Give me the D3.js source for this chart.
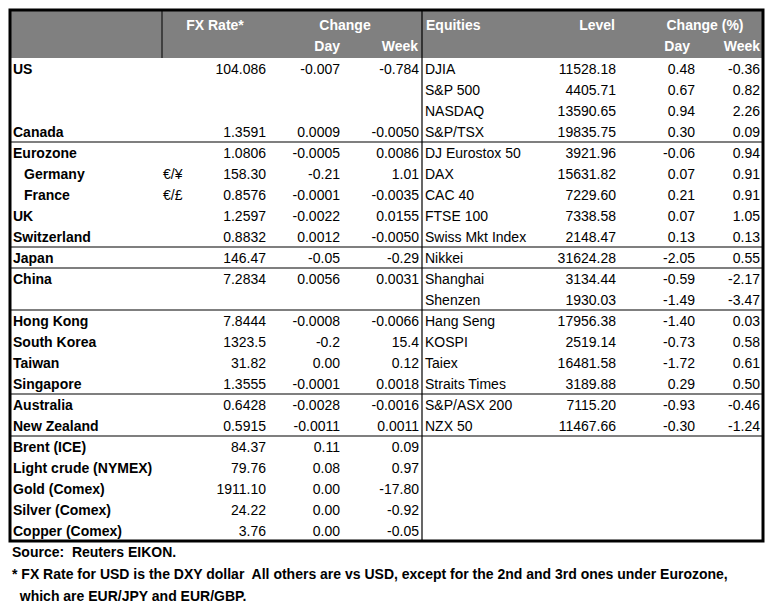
<!DOCTYPE html>
<html><head><meta charset="utf-8">
<script src="https://cdn.jsdelivr.net/npm/d3@7"></script>
<style>body{margin:0;background:#fff}text{font-family:"Liberation Sans",Arial,sans-serif;font-size:14px}</style>
</head><body><svg width="783" height="611"></svg>
<script>
// données du tableau
const regions = ["US","","","Canada","Eurozone","Germany","France","UK","Switzerland","Japan","China","","Hong Kong","South Korea","Taiwan","Singapore","Australia","New Zealand","Brent (ICE)","Light crude (NYMEX)","Gold (Comex)","Silver (Comex)","Copper (Comex)"];
const pairs = ["","","","","","€/¥","€/£","","","","","","","","","","","","","","","",""];
const fxRate = ["104.086","","","1.3591","1.0806","158.30","0.8576","1.2597","0.8832","146.47","7.2834","","7.8444","1323.5","31.82","1.3555","0.6428","0.5915","84.37","79.76","1911.10","24.22","3.76"];
const fxDay = ["-0.007","","","0.0009","-0.0005","-0.21","-0.0001","-0.0022","0.0012","-0.05","0.0056","","-0.0008","-0.2","0.00","-0.0001","-0.0028","-0.0011","0.11","0.08","0.00","0.00","0.00"];
const fxWeek = ["-0.784","","","-0.0050","0.0086","1.01","-0.0035","0.0155","-0.0050","-0.29","0.0031","","-0.0066","15.4","0.12","0.0018","-0.0016","0.0011","0.09","0.97","-17.80","-0.92","-0.05"];
const indices = ["DJIA","S&P 500","NASDAQ","S&P/TSX","DJ Eurostox 50","DAX","CAC 40","FTSE 100","Swiss Mkt Index","Nikkei","Shanghai","Shenzen","Hang Seng","KOSPI","Taiex","Straits Times","S&P/ASX  200","NZX 50"];
const levels = ["11528.18","4405.71","13590.65","19835.75","3921.96","15631.82","7229.60","7338.58","2148.47","31624.28","3134.44","1930.03","17956.38","2519.14","16481.58","3189.88","7115.20","11467.66"];
const eqDay = ["0.48","0.67","0.94","0.30","-0.06","0.07","0.21","0.07","0.13","-2.05","-0.59","-1.49","-1.40","-0.73","-1.72","0.29","-0.93","-0.30"];
const eqWeek = ["-0.36","0.82","2.26","0.09","0.94","0.91","0.91","1.05","0.13","0.55","-2.17","-3.47","0.03","0.58","0.61","0.50","-0.46","-1.24"];
const indented = ["Germany","France"];
const separators = [4, 9, 10, 12, 16, 18]; // une ligne au-dessus de ces rangées

const svg = d3.select("svg");
const y = d3.scaleBand().domain(d3.range(regions.length)).range([58, 541]);
const L = 10, R = 763, mid = 422;

svg.append("rect").attr("x", L).attr("y", 10).attr("width", R - L).attr("height", 48).attr("fill", "#808080");
svg.append("line").attr("x1", 162).attr("x2", 162).attr("y1", 10).attr("y2", 58).attr("stroke", "#000");

const head = [
  {t: "FX Rate*", x: 215, y: 30, a: "middle"}, {t: "Change", x: 345, y: 30, a: "middle"},
  {t: "Day", x: 340, y: 51, a: "end"}, {t: "Week", x: 418, y: 51, a: "end"},
  {t: "Equities", x: 426, y: 30, a: "start"}, {t: "Level", x: 615, y: 30, a: "end"},
  {t: "Change (%)", x: 705, y: 30, a: "middle"}, {t: "Day", x: 690, y: 51, a: "end"},
  {t: "Week", x: 760, y: 51, a: "end"}
];
svg.selectAll(".h").data(head).join("text").attr("x", d => d.x).attr("y", d => d.y)
  .attr("text-anchor", d => d.a).attr("fill", "#fff").attr("font-weight", "bold").text(d => d.t);

const row = i => y(i) + y.bandwidth() / 2 + 5;
const col = (arr, x, anchor, bold) => svg.append("g").selectAll("text").data(arr).join("text")
  .attr("x", (d, i) => typeof x === "function" ? x(d) : x).attr("y", (d, i) => row(i))
  .attr("text-anchor", anchor).attr("font-weight", bold ? "bold" : null).text(d => d);

col(regions, d => indented.includes(d) ? 24 : 13, "start", true);
col(pairs, 163, "start", false);
col(fxRate, 266, "end", false);
col(fxDay, 340, "end", false);
col(fxWeek, 419, "end", false);
col(indices, 425, "start", false);
col(levels, 616, "end", false);
col(eqDay, 695, "end", false);
col(eqWeek, 760, "end", false);

svg.selectAll(".sep").data(separators).join("line")
  .attr("x1", L).attr("x2", R).attr("y1", d => y(d)).attr("y2", d => y(d)).attr("stroke", "#000").attr("stroke-width", 1.2);
svg.append("line").attr("x1", mid).attr("x2", mid).attr("y1", 10).attr("y2", 541).attr("stroke", "#000").attr("stroke-width", 1.2);
svg.append("rect").attr("x", L).attr("y", 10).attr("width", R - L).attr("height", 531)
  .attr("fill", "none").attr("stroke", "#000").attr("stroke-width", 3);

const foot = ["Source:  Reuters EIKON.", "* FX Rate for USD is the DXY dollar  All others are vs USD, except for the 2nd and 3rd ones under Eurozone,", "  which are EUR/JPY and EUR/GBP."];
svg.selectAll(".f").data(foot).join("text").attr("x", 12).attr("y", (d, i) => 557 + i * 22)
  .attr("font-weight", "bold").attr("font-size", "13.5px").attr("xml:space", "preserve").text(d => d);
</script></body></html>
